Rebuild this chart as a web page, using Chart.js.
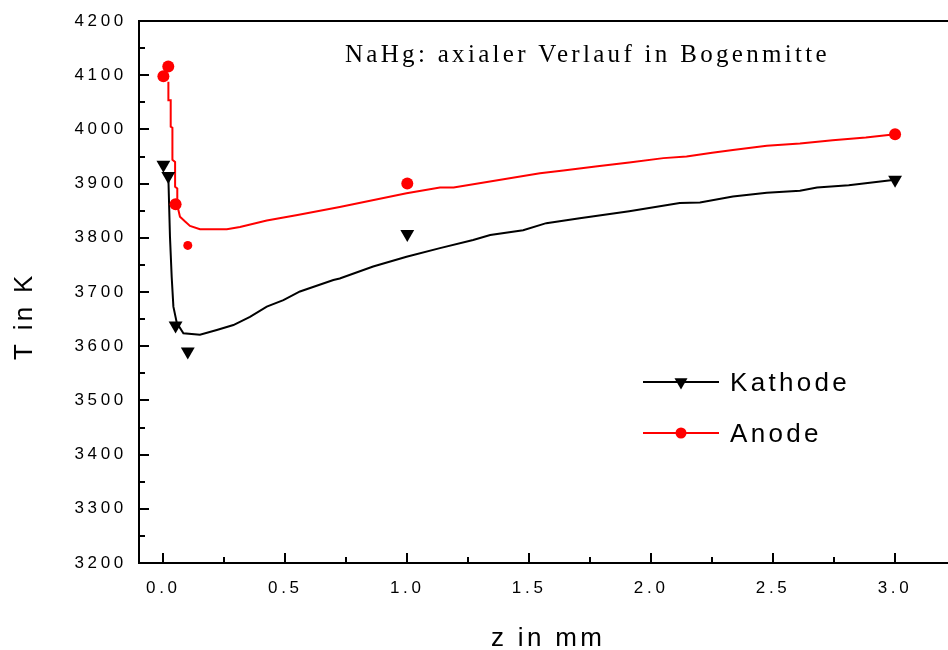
<!DOCTYPE html>
<html>
<head>
<meta charset="utf-8">
<title>NaHg: axialer Verlauf in Bogenmitte</title>
<script src="https://cdn.jsdelivr.net/npm/chart.js@4/dist/chart.umd.min.js"></script>
<style>
  html, body { margin: 0; padding: 0; background: #ffffff; }
  #wrap { width: 948px; height: 650px; position: relative; }
</style>
</head>
<body>
<div id="wrap"><canvas id="c" width="948" height="650"></canvas></div>
<script>
// Axis ticks
const xTicks = [0, 0.5, 1.0, 1.5, 2.0, 2.5, 3.0];
const yTicks = [3200, 3300, 3400, 3500, 3600, 3700, 3800, 3900, 4000, 4100, 4200];

// Measured temperatures (symbols)
const kathodeZ = [0, 0.02, 0.05, 0.1, 1.0, 3.0];
const kathodeT = [3935, 3914, 3638, 3590, 3807, 3907];
const anodeZ   = [0, 0.02, 0.05, 0.1, 1.0, 3.0];
const anodeT   = [4098, 4116, 3862, 3786, 3900, 3991];

// Calculated axial profiles (lines)
const kathodeCurveZ = [0.0205, 0.027, 0.034, 0.041, 0.055, 0.082, 0.150, 0.219, 0.287, 0.355, 0.424, 0.492,
                       0.56, 0.697, 0.723, 0.86, 0.997, 1.134, 1.27, 1.34, 1.475, 1.57, 1.707, 1.91,
                       2.117, 2.2, 2.335, 2.474, 2.61, 2.68, 2.81, 3.0];
const kathodeCurveT = [3910, 3802, 3728, 3673, 3643, 3624, 3621, 3630, 3639, 3654, 3673, 3685,
                       3701, 3722, 3725, 3747, 3765, 3781, 3796, 3805, 3814, 3827, 3836, 3849,
                       3864, 3865, 3876, 3883, 3887, 3893, 3897, 3907];
const anodeCurveZ = [0.0205, 0.0205, 0.030, 0.030, 0.037, 0.037, 0.048, 0.048, 0.057, 0.057, 0.068, 0.089,
                     0.109, 0.150, 0.26, 0.314, 0.424, 0.55, 0.723, 0.997, 1.134, 1.19, 1.544, 1.64,
                     1.78, 1.91, 2.05, 2.145, 2.25, 2.335, 2.474, 2.61, 2.744, 2.88, 3.0];
const anodeCurveT = [4088, 4054, 4054, 4005, 4003, 3944, 3940, 3894, 3891, 3860, 3839, 3830,
                     3822, 3816, 3816, 3820, 3832, 3842, 3857, 3882, 3893, 3893, 3919, 3924,
                     3932, 3939, 3947, 3950, 3957, 3962, 3970, 3974, 3980, 3985, 3991];

const seriesNames = ['Kathode', 'Anode'];
const chartTitle = 'NaHg: axialer Verlauf in Bogenmitte';
const xTitle = 'z in mm';
const yTitle = 'T in K';

const pts = (xs, ys) => xs.map((x, i) => ({ x: x, y: ys[i] }));
const SANS = '"Liberation Sans", Arial, Helvetica, sans-serif';
const SERIF = '"Liberation Serif", "Times New Roman", serif';
const RED = '#ff0000';
const BLACK = '#000000';

function drawDownTriangle(ctx, cx, cy, r) {
  ctx.beginPath();
  ctx.moveTo(cx - r * 0.866, cy - r * 0.5);
  ctx.lineTo(cx + r * 0.866, cy - r * 0.5);
  ctx.lineTo(cx, cy + r);
  ctx.closePath();
  ctx.fill();
}

const decorations = {
  id: 'decorations',
  beforeDraw(chart) {
    // spaced-out lettering for the tick labels
    chart.ctx.letterSpacing = '3.7px';
  },
  afterDraw(chart) {
    const ctx = chart.ctx;
    const a = chart.chartArea;
    const xs = chart.scales.x, ys = chart.scales.y;
    ctx.save();
    ctx.letterSpacing = '0px';
    ctx.strokeStyle = BLACK;
    ctx.lineWidth = 2;

    // top frame line
    ctx.beginPath();
    ctx.moveTo(a.left, a.top);
    ctx.lineTo(a.right, a.top);
    ctx.stroke();

    // inward major / minor ticks
    const yMinor = yTicks.slice(1).map((v, i) => (v + yTicks[i]) / 2);
    const xMinor = xTicks.slice(1).map((v, i) => (v + xTicks[i]) / 2);
    ctx.beginPath();
    yTicks.forEach(v => { const p = Math.round(ys.getPixelForValue(v)); ctx.moveTo(a.left, p); ctx.lineTo(a.left + 10, p); });
    yMinor.forEach(v => { const p = Math.round(ys.getPixelForValue(v)); ctx.moveTo(a.left, p); ctx.lineTo(a.left + 6, p); });
    xTicks.forEach(v => { const p = Math.round(xs.getPixelForValue(v)); ctx.moveTo(p, a.bottom); ctx.lineTo(p, a.bottom - 10); });
    xMinor.forEach(v => { const p = Math.round(xs.getPixelForValue(v)); ctx.moveTo(p, a.bottom); ctx.lineTo(p, a.bottom - 6); });
    ctx.stroke();

    ctx.fillStyle = BLACK;
    ctx.textBaseline = 'alphabetic';

    // chart title inside the plot
    ctx.font = '25px ' + SERIF;
    ctx.letterSpacing = '3.3px';
    ctx.textAlign = 'left';
    ctx.fillText(chartTitle, 345, 62);

    // axis titles
    ctx.font = '26px ' + SANS;
    ctx.letterSpacing = '3.3px';
    ctx.fillText(xTitle, 491, 646);
    ctx.save();
    ctx.translate(31.5, 360);
    ctx.rotate(-Math.PI / 2);
    ctx.fillText(yTitle, 0, 0);
    ctx.restore();

    // legend
    const lx0 = 643, lx1 = 719, mx = 681;
    const rows = [
      { y: 382, color: BLACK, marker: 'tri', base: 391 },
      { y: 433, color: RED, marker: 'dot', base: 442 }
    ];
    rows.forEach((r, i) => {
      ctx.strokeStyle = r.color;
      ctx.lineWidth = 2;
      ctx.beginPath();
      ctx.moveTo(lx0, r.y);
      ctx.lineTo(lx1, r.y);
      ctx.stroke();
      ctx.fillStyle = r.color;
      if (r.marker === 'tri') {
        drawDownTriangle(ctx, mx, r.y, 7.5);
      } else {
        ctx.beginPath();
        ctx.arc(mx, r.y, 5.5, 0, Math.PI * 2);
        ctx.fill();
      }
      ctx.fillStyle = BLACK;
      ctx.fillText(seriesNames[i], 730, r.base);
    });
    ctx.restore();
  }
};

new Chart(document.getElementById('c'), {
  type: 'scatter',
  data: {
    datasets: [
      {
        label: seriesNames[0],
        data: pts(kathodeZ, kathodeT),
        pointStyle: 'triangle',
        rotation: 180,
        pointRadius: 8,
        backgroundColor: BLACK,
        borderWidth: 0,
        showLine: false,
        order: 0
      },
      {
        label: seriesNames[1],
        data: pts(anodeZ, anodeT),
        pointStyle: 'circle',
        pointRadius: c => (c.dataIndex === 3 ? 4.5 : 6),
        backgroundColor: RED,
        borderWidth: 0,
        showLine: false,
        order: 0
      },
      {
        label: seriesNames[0] + ' (Rechnung)',
        data: pts(kathodeCurveZ, kathodeCurveT),
        showLine: true,
        borderColor: BLACK,
        borderWidth: 2,
        pointRadius: 0,
        tension: 0,
        order: 1
      },
      {
        label: seriesNames[1] + ' (Rechnung)',
        data: pts(anodeCurveZ, anodeCurveT),
        showLine: true,
        borderColor: RED,
        borderWidth: 2,
        pointRadius: 0,
        tension: 0,
        order: 1
      }
    ]
  },
  options: {
    responsive: false,
    devicePixelRatio: 1,
    animation: false,
    events: [],
    layout: { autoPadding: false, padding: { top: 21, right: 0, bottom: 0, left: 0 } },
    plugins: {
      legend: { display: false },
      title: { display: false },
      tooltip: { enabled: false }
    },
    scales: {
      x: {
        type: 'linear',
        min: -0.1,
        max: 3.217,
        afterBuildTicks: s => { s.ticks = xTicks.map(v => ({ value: v })); },
        afterFit: s => { s.height = 87; s.paddingLeft = 0; s.paddingRight = 0; },
        grid: { display: false, drawTicks: false, drawOnChartArea: false },
        border: { display: true, color: BLACK, width: 2 },
        ticks: {
          callback: v => Number(v).toFixed(1),
          font: { family: SANS, size: 17 },
          color: BLACK,
          padding: 15,
          autoSkip: false,
          maxRotation: 0
        }
      },
      y: {
        type: 'linear',
        min: 3200,
        max: 4200,
        afterBuildTicks: s => { s.ticks = yTicks.map(v => ({ value: v })); },
        afterFit: s => { s.width = 139; s.paddingTop = 0; s.paddingBottom = 0; },
        grid: { display: false, drawTicks: false, drawOnChartArea: false },
        border: { display: true, color: BLACK, width: 2 },
        ticks: {
          callback: v => String(v),
          font: { family: SANS, size: 17 },
          color: BLACK,
          padding: 12,
          autoSkip: false
        }
      }
    }
  },
  plugins: [decorations]
});
</script>
</body>
</html>
